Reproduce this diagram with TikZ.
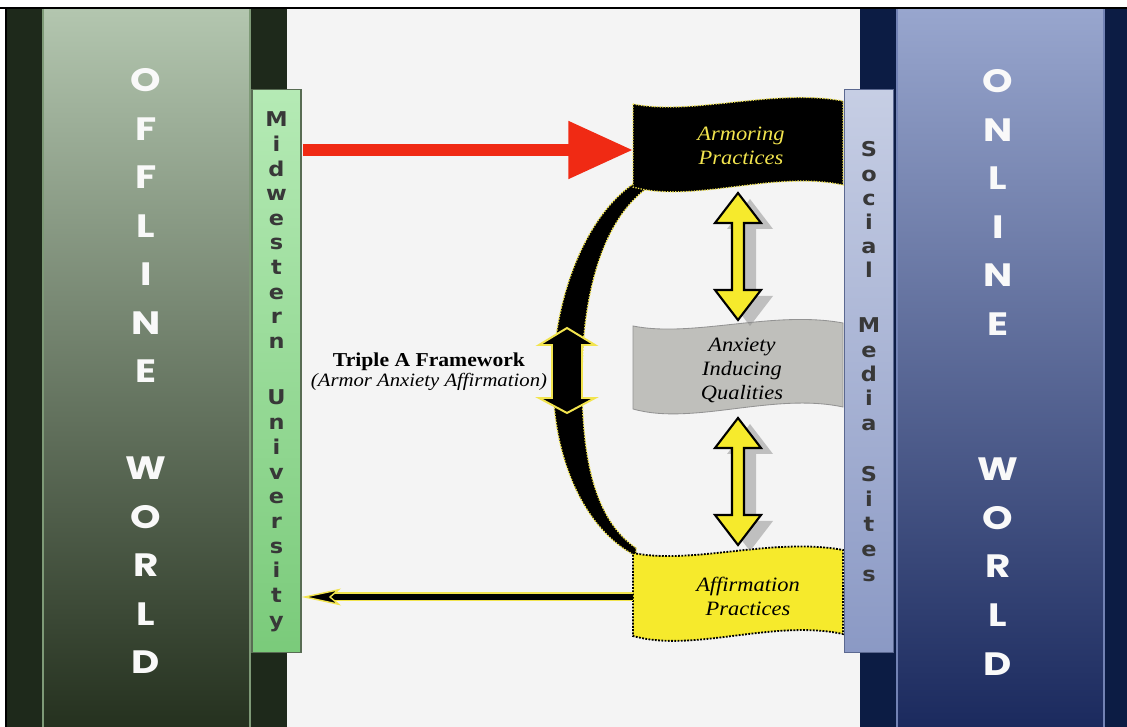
\documentclass[tikz,border=0pt]{standalone}
\usepackage{fontspec}
\setmainfont{Liberation Serif}[FakeStretch=1.1]
\newfontfamily\worldfont{Poppins}[FakeStretch=1.2]
\newfontfamily\tabfont{DejaVu Sans}[FakeStretch=1.1]
\usetikzlibrary{arrows.meta,positioning}

\definecolor{offdark}{HTML}{1E291B}
\definecolor{offtop}{HTML}{B3C6AF}
\definecolor{offmid}{HTML}{5C7357}
\definecolor{offbot}{HTML}{25311F}
\definecolor{offedge}{HTML}{7E9A77}
\definecolor{ondark}{HTML}{0C1C44}
\definecolor{ontop}{HTML}{98A6CE}
\definecolor{onmid}{HTML}{3F5090}
\definecolor{onbot}{HTML}{1B2A5E}
\definecolor{onedge}{HTML}{7282B4}
\definecolor{paper}{HTML}{F4F4F4}
\definecolor{armorred}{HTML}{F02A14}
\definecolor{flagyellow}{HTML}{F6EA2C}
\definecolor{textyellow}{HTML}{F2E44E}
\definecolor{flaggray}{HTML}{BFBFBB}

\tikzset{
  worldletter/.style={text=white!95!gray, font=\worldfont\bfseries\fontsize{23}{23}\selectfont, anchor=base, inner sep=0pt},
  tabletter/.style={text=black!78, font=\tabfont\bfseries\fontsize{14.5}{14.5}\selectfont, anchor=base, inner sep=0pt},
  sidetab/.style={minimum width=1.225cm, minimum height=14.05cm, inner sep=0pt, line width=0.8pt},
  flagtext/.style={font=\itshape\fontsize{14.5}{17}\selectfont, align=center, inner sep=0pt},
  tripletext/.style={font=\fontsize{14}{14.2}\selectfont, align=center, inner sep=0pt},
  armorflag/.style={fill=black, draw=textyellow, densely dotted, line width=0.9pt},
  anxietyflag/.style={fill=flaggray, draw=gray!85, line width=0.6pt},
  affirmflag/.style={fill=flagyellow, draw=black, densely dotted, line width=1.3pt},
  flag/.pic={
    \path[pic actions] (0,0) .. controls (60,12) and (140,-16) .. (210,-3)
      -- (210,81) .. controls (140,66) and (60,100) .. (0,83) -- cycle;
  },
  arrowshadow/.style={fill=black!45, opacity=.5},
  arrowbody/.style={fill=flagyellow, draw=black, line width=1.5pt, line join=miter},
  yelarrow/.pic={
    \foreach \dx/\dy/\sty in {12/6/arrowshadow, 0/0/arrowbody}
      \path[\sty, shift={(\dx,\dy)}] (0,0) -- (23,30) -- (6,30) -- (6,97) -- (23,97)
        -- (0,127) -- (-23,97) -- (-6,97) -- (-6,30) -- (-23,30) -- cycle;
  },
  bandstyle/.style={fill=black, draw=textyellow, densely dotted, line width=1pt},
  bandarrow/.style={fill=black, draw=textyellow, line width=1.4pt, line join=miter},
  armorarrow/.style={armorred, line width=8.5pt, -{Triangle[length=46pt, width=39pt]}},
  affirmarrow/.style={black, line width=4.3pt, -{Stealth[length=28pt, width=12pt, inset=7pt, line width=1pt, fill=black, color=textyellow]},
    preaction={draw=textyellow, line width=6.4pt, shorten >=22pt, -}}
}

\begin{document}
\begin{tikzpicture}[x=0.025cm, y=-0.025cm]
  \useasboundingbox (0,0) rectangle (1127,727);

  % Background panels
  \fill[white] (0,0) rectangle (1127,727);
  \fill[paper] (6,9) rectangle (1127,727);
  \fill[offdark] (6,9) rectangle (287,727);
  \fill[ondark] (860,9) rectangle (1127,727);
  \shade[top color=offtop, middle color=offmid, bottom color=offbot] (43,9) rectangle (250,727);
  \shade[top color=ontop, middle color=onmid, bottom color=onbot] (897,9) rectangle (1104,727);
  \draw[offedge, line width=0.8pt] (43,9) -- (43,727) (250,9) -- (250,727);
  \draw[onedge, line width=0.8pt] (897,9) -- (897,727) (1104,9) -- (1104,727);
  \draw[line width=1.6pt] (0,8) -- (1127,8);
  \draw[line width=1pt] (6,8) -- (6,727);

  % World letters
  \foreach \ch [count=\i from 0] in {O,F,F,L,I,N,E}
    \node[worldletter] (off-\i) at (146,{92+48.5*\i}) {\ch};
  \foreach \ch [count=\i from 0] in {W,O,R,L,D} {
    \node[worldletter] (offw-\i) at (146,{480+48.5*\i}) {\ch};
    \node[worldletter] (onw-\i) at (998,{481+48.5*\i}) {\ch};
  }
  \foreach \ch [count=\i from 0] in {O,N,L,I,N,E}
    \node[worldletter] (on-\i) at (998,{93+48.5*\i}) {\ch};

  % Side tabs
  \node[sidetab, draw=offedge!70!black, top color=green!22!paper!95!black, bottom color=green!45!gray!70!paper] (midtab) at (276.5,371) {};
  \node[sidetab, draw=onedge!80!black, top color=ontop!55!white, bottom color=ontop!85!onmid] (socialtab) at (869,371) {};
  \foreach \ch [count=\i from 0] in {M,i,d,w,e,s,t,e,r,n}
    \node[tabletter] (mw-\i) at (276.5,{127+24.6*\i}) {\ch};
  \foreach \ch [count=\i from 0] in {U,n,i,v,e,r,s,i,t,y}
    \node[tabletter] (uni-\i) at (276.5,{405+24.7*\i}) {\ch};
  \foreach \ch [count=\i from 0] in {S,o,c,i,a,l}
    \node[tabletter] (soc-\i) at (869,{157+24.2*\i}) {\ch};
  \foreach \ch [count=\i from 0] in {M,e,d,i,a}
    \node[tabletter] (med-\i) at (869,{333+24.3*\i}) {\ch};
  \foreach \ch [count=\i from 0] in {S,i,t,e,s}
    \node[tabletter] (sit-\i) at (869,{482+25*\i}) {\ch};

  % Black band between armoring and affirmation
  \draw[bandstyle] (636,182) .. controls (585,215) and (553,300) .. (553,380)
    .. controls (553,460) and (585,530) .. (636,556) -- (636,548)
    .. controls (595,520) and (582,460) .. (582,380)
    .. controls (582,300) and (600,220) .. (650,186) -- cycle;
  \draw[bandarrow] (567,328) -- (595,345) -- (582,345) -- (582,398) -- (595,398) -- (567,413)
    -- (539,398) -- (552,398) -- (552,345) -- (539,345) -- cycle;

  % Flags
  \pic[armorflag] at (633,104) {flag};
  \pic[anxietyflag] at (633,326) {flag};
  \pic[affirmflag] at (633,553) {flag};
  \node[flagtext, text=textyellow] (armor) at (741,146) {Armoring\\Practices};
  \node[flagtext] (anxiety) at (742,370) {Anxiety\\Inducing\\Qualities};
  \node[flagtext] (affirm) at (748,596) {Affirmation\\Practices};

  % Yellow double arrows
  \pic at (738,193) {yelarrow};
  \pic at (738,418) {yelarrow};

  % Framework label
  \node[tripletext] (triple) at (429,372) {{\bfseries Triple A Framework}\\{\itshape\fontsize{13.4}{14.2}\selectfont (Armor Anxiety Affirmation)}};

  % Connectors
  \draw[armorarrow] ([xshift=1pt]midtab.east |- 0,150) -- (633,150) coordinate (armorin);
  \coordinate (affirmout) at (633,597);
  \draw[affirmarrow] (affirmout) -- (midtab.east |- affirmout);
\end{tikzpicture}
\end{document}
